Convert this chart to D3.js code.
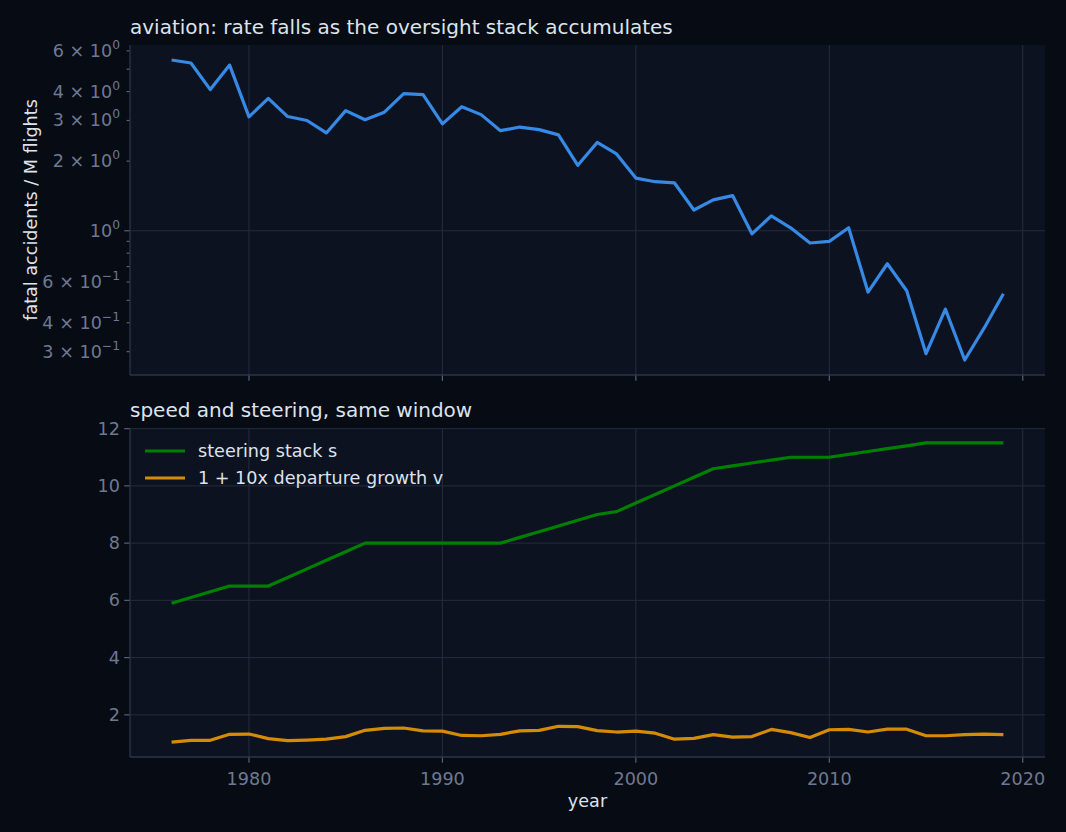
<!DOCTYPE html>
<html>
<head>
<meta charset="utf-8">
<script src="https://cdn.jsdelivr.net/npm/d3@7"></script>
<style>
  html, body { margin: 0; padding: 0; background: #070b13; }
  svg { display: block; font-family: "DejaVu Sans", sans-serif; }
</style>
</head>
<body>
<svg id="chart" width="1066" height="832"></svg>
<script>
// data
var years = d3.range(1976, 2020);
var fatalRate = [5.48, 5.32, 4.08, 5.21, 3.11, 3.74, 3.12, 3.00, 2.65, 3.31,
  3.02, 3.26, 3.92, 3.88, 2.90, 3.44, 3.18, 2.71, 2.81, 2.74,
  2.60, 1.92, 2.41, 2.15, 1.69, 1.63, 1.61, 1.23, 1.36, 1.42,
  0.97, 1.16, 1.03, 0.885, 0.90, 1.03, 0.543, 0.72, 0.55, 0.294,
  0.458, 0.276, 0.379, 0.534];
var steering = [5.9, 6.1, 6.3, 6.5, 6.5, 6.5, 6.8, 7.1, 7.4, 7.7,
  8, 8, 8, 8, 8, 8, 8, 8, 8.2, 8.4,
  8.6, 8.8, 9.0, 9.1, 9.4, 9.7, 10.0, 10.3, 10.6, 10.7,
  10.8, 10.9, 11.0, 11.0, 11.0, 11.1, 11.2, 11.3, 11.4, 11.5,
  11.5, 11.5, 11.5, 11.5];
var departures = [1.05, 1.11, 1.11, 1.32, 1.33, 1.17, 1.10, 1.12, 1.15, 1.24,
  1.46, 1.53, 1.54, 1.44, 1.43, 1.28, 1.27, 1.32, 1.44, 1.46,
  1.60, 1.59, 1.45, 1.40, 1.43, 1.36, 1.15, 1.18, 1.31, 1.22,
  1.24, 1.49, 1.38, 1.21, 1.48, 1.49, 1.40, 1.50, 1.50, 1.27,
  1.27, 1.31, 1.33, 1.31];

var xTicks = [1980, 1990, 2000, 2010, 2020];
var logLabeled = [0.3, 0.4, 0.6, 1, 2, 3, 4, 6];
var logUnlabeled = [0.5, 0.7, 0.8, 0.9, 5];
var linTicks = [2, 4, 6, 8, 10, 12];
var legendNames = ["steering stack s", "1 + 10x departure growth v"];

var colors = {
  fig: "#070b13", face: "#0d1221", grid: "#242c3e", spine: "#2c3549",
  tick: "#56617a", tickText: "#6d7993", text: "#dde3ec",
  blue: "#3689e4", green: "#008000", orange: "#d68b07"
};
var fs = 17.6;

var svg = d3.select("#chart");
svg.append("rect").attr("width", 1066).attr("height", 832).attr("fill", colors.fig);

var left = 130, right = 1045;
var top1 = 45, bot1 = 375, top2 = 428, bot2 = 757;

// matplotlib style 5% margins
function pad(lo, hi) { var m = (hi - lo) * 0.05; return [lo - m, hi + m]; }
var xd = pad(d3.min(years), d3.max(years));
var x = d3.scaleLinear().domain(xd).range([left, right]);

var ld = pad(Math.log10(d3.min(fatalRate)), Math.log10(d3.max(fatalRate)));
var y1 = d3.scaleLog().domain([Math.pow(10, ld[0]), Math.pow(10, ld[1])]).range([bot1, top1]);

var yd = pad(d3.min(departures), d3.max(steering));
var y2 = d3.scaleLinear().domain(yd).range([bot2, top2]);

function panel(top, bot) {
  var g = svg.append("g");
  g.append("rect").attr("x", left).attr("y", top).attr("width", right - left)
    .attr("height", bot - top).attr("fill", colors.face);
  return g;
}

// ---- top panel
var g1 = panel(top1, bot1);
g1.selectAll(".vg").data(xTicks).enter().append("line")
  .attr("x1", d => x(d)).attr("x2", d => x(d)).attr("y1", top1).attr("y2", bot1)
  .attr("stroke", colors.grid).attr("stroke-width", 1);
g1.append("line").attr("x1", left).attr("x2", right).attr("y1", y1(1)).attr("y2", y1(1))
  .attr("stroke", colors.grid).attr("stroke-width", 1);

g1.append("path").datum(years)
  .attr("fill", "none").attr("stroke", colors.blue).attr("stroke-width", 3.2)
  .attr("stroke-linejoin", "round")
  .attr("d", d3.line().x(d => x(d)).y((d, i) => y1(fatalRate[i])));

// y ticks (log)
g1.selectAll(".tl").data(logLabeled.concat(logUnlabeled)).enter().append("line")
  .attr("x1", d => left - (d === 1 ? 5.8 : 3.4)).attr("x2", left)
  .attr("y1", d => y1(d)).attr("y2", d => y1(d))
  .attr("stroke", colors.tick).attr("stroke-width", 1.2);

var lab = g1.selectAll(".lab").data(logLabeled).enter().append("text")
  .attr("x", left - 10).attr("y", d => y1(d) + 6)
  .attr("text-anchor", "end").attr("fill", colors.tickText).attr("font-size", fs);
lab.each(function(d) {
  var e = Math.floor(Math.log10(d) + 1e-9);
  var m = Math.round(d / Math.pow(10, e));
  var t = d3.select(this);
  t.append("tspan").text(m === 1 ? "10" : m + " \u00d7 10");
  t.append("tspan").attr("dy", -8).attr("font-size", 12.3).text(e < 0 ? "\u2212" + (-e) : e);
});

// ---- bottom panel
var g2 = panel(top2, bot2);
g2.selectAll(".vg").data(xTicks).enter().append("line")
  .attr("x1", d => x(d)).attr("x2", d => x(d)).attr("y1", top2).attr("y2", bot2)
  .attr("stroke", colors.grid).attr("stroke-width", 1);
g2.selectAll(".hg").data(linTicks).enter().append("line")
  .attr("x1", left).attr("x2", right).attr("y1", d => y2(d)).attr("y2", d => y2(d))
  .attr("stroke", colors.grid).attr("stroke-width", 1);

var line2 = arr => d3.line().x(d => x(d)).y((d, i) => y2(arr[i]));
g2.append("path").datum(years).attr("fill", "none").attr("stroke", colors.green)
  .attr("stroke-width", 3.2).attr("stroke-linejoin", "round").attr("d", line2(steering));
g2.append("path").datum(years).attr("fill", "none").attr("stroke", colors.orange)
  .attr("stroke-width", 3.2).attr("stroke-linejoin", "round").attr("d", line2(departures));

g2.selectAll(".yt").data(linTicks).enter().append("line")
  .attr("x1", left - 5.8).attr("x2", left).attr("y1", d => y2(d)).attr("y2", d => y2(d))
  .attr("stroke", colors.tick).attr("stroke-width", 1.2);
g2.selectAll(".ytl").data(linTicks).enter().append("text")
  .attr("x", left - 10).attr("y", d => y2(d) + 6).attr("text-anchor", "end")
  .attr("fill", colors.tickText).attr("font-size", fs).text(d => d);

// x ticks on both panels, labels only at the bottom
[bot1, bot2].forEach(function(b) {
  svg.selectAll(null).data(xTicks).enter().append("line")
    .attr("x1", d => x(d)).attr("x2", d => x(d)).attr("y1", b).attr("y2", b + 5.8)
    .attr("stroke", colors.tick).attr("stroke-width", 1.2);
});
svg.selectAll(".xtl").data(xTicks).enter().append("text")
  .attr("x", d => x(d)).attr("y", bot2 + 28).attr("text-anchor", "middle")
  .attr("fill", colors.tickText).attr("font-size", fs).text(d => d);

// spines: left + bottom
[[top1, bot1], [top2, bot2]].forEach(function(p) {
  svg.append("line").attr("x1", left).attr("x2", left).attr("y1", p[0]).attr("y2", p[1])
    .attr("stroke", colors.spine).attr("stroke-width", 1.3);
  svg.append("line").attr("x1", left).attr("x2", right).attr("y1", p[1]).attr("y2", p[1])
    .attr("stroke", colors.spine).attr("stroke-width", 1.3);
});

// legend
var leg = svg.append("g");
[colors.green, colors.orange].forEach(function(c, i) {
  var ly = 451 + i * 27;
  leg.append("line").attr("x1", 145).attr("x2", 185).attr("y1", ly).attr("y2", ly)
    .attr("stroke", c).attr("stroke-width", 3.2);
  leg.append("text").attr("x", 198).attr("y", ly + 6).attr("fill", colors.text)
    .attr("font-size", fs).text(legendNames[i]);
});

// titles and labels
svg.append("text").attr("x", left).attr("y", top1 - 11).attr("fill", colors.text)
  .attr("font-size", 20).text("aviation: rate falls as the oversight stack accumulates");
svg.append("text").attr("x", left).attr("y", top2 - 11).attr("fill", colors.text)
  .attr("font-size", 20).text("speed and steering, same window");
svg.append("text").attr("transform", "translate(37," + (top1 + bot1) / 2 + ") rotate(-90)")
  .attr("text-anchor", "middle").attr("fill", colors.text).attr("font-size", fs)
  .text("fatal accidents / M flights");
svg.append("text").attr("x", (left + right) / 2).attr("y", 807).attr("text-anchor", "middle")
  .attr("fill", colors.text).attr("font-size", fs).text("year");
</script>
</body>
</html>
